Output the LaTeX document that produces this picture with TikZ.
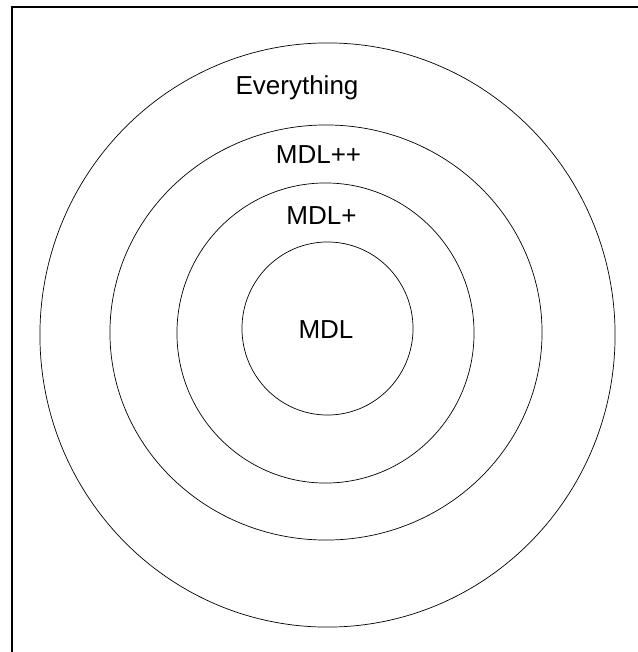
\documentclass[tikz,border=0pt]{standalone}
\usepackage{fontspec}
\setmainfont{Liberation Sans}
\usetikzlibrary{shapes.geometric, positioning}
\tikzset{
  ring/.style={ellipse, draw, line width=0.5pt, inner sep=0pt, outer sep=0pt},
  lbl/.style={anchor=base, font=\fontsize{18.5}{21}\selectfont, inner sep=0pt},
  frame/.style={line width=1.1pt},
}

\begin{document}
\begin{tikzpicture}[x=0.025cm, y=-0.025cm]
  \useasboundingbox (0,0) rectangle (638,652);
  % frame (cut off on the right and at the bottom)
  \draw[frame] (645,7) -- (12,7) -- (12,653) -- (645,653);
  % nested sets
  \node[ring, minimum width=14.375cm, minimum height=14.6cm] (everything) at (327.5,335) {};
  \node[ring, minimum width=10.8cm, minimum height=10.375cm] (mdlpp) at (326,332.5) {};
  \node[ring, minimum width=7.425cm, minimum height=7.5cm] (mdlp) at (325.5,333) {};
  \node[ring, minimum width=4.275cm, minimum height=4.325cm] (mdl) at (327.5,328.5) {};
  % labels
  \node[lbl] (t-everything) at (297,94) {Everything};
  \node[lbl] (t-mdlpp) at (318.5,163) {MDL++};
  \node[lbl] (t-mdlp) at (321.5,224) {MDL+};
  \node[lbl] (t-mdl) at (326,338) {MDL};
\end{tikzpicture}
\end{document}
